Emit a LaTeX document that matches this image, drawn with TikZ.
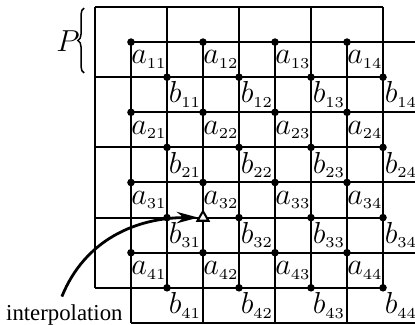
\documentclass[tikz,border=0pt]{standalone}
\usepackage{amsmath}
\usepackage{fontspec}
\usepackage{tikz}
\usetikzlibrary{arrows.meta, positioning, shapes.geometric, decorations.pathreplacing}
\newfontfamily\notefont{Liberation Serif}

\begin{document}
\begin{tikzpicture}[
  x=0.5cm, y=-0.4875cm,
  gridline/.style={line width=0.8pt},
  gridpt/.style={circle, fill, inner sep=0pt, minimum size=3pt},
  val/.style={inner sep=0pt, font=\fontsize{11.5}{14}\selectfont},
  >={Stealth[length=3mm, width=1.6mm, inset=1mm]}
]
  \useasboundingbox (-2.639,-0.199) rectangle (8.889,9.047);
  \clip (-2.639,-0.199) rectangle (8.889,9.047);
  % P lattice
  \foreach \k in {0,2,...,8} {
    \draw[gridline] (\k,0) -- (\k,8);
    \draw[gridline] (0,\k) -- (8,\k);
  }
  % a lattice
  \foreach \k in {1,3,...,9} {
    \draw[gridline] (\k,1) -- (\k,9);
    \draw[gridline] (1,\k) -- (9,\k);
  }
  \foreach \i in {1,...,4} {
    \foreach \j in {1,...,4} {
      \node[gridpt] (pa\i\j) at ({2*\j-1},{2*\i-1}) {};
      \node[gridpt] (pb\i\j) at ({2*\j},{2*\i}) {};
      \node[val] (a\i\j) at ({2*\j-0.5},{2*\i-0.5}) {$a_{\scriptscriptstyle\i\j}$};
      \node[val] (b\i\j) at ({2*\j+0.5},{2*\i+0.5}) {$b_{\scriptscriptstyle\i\j}$};
    }
  }
  % period brace
  \draw[decorate, decoration={brace, amplitude=2.5pt}, line width=0.6pt] (-0.3,1.88) -- (-0.3,0.03);
  \node[font=\fontsize{11.5}{13}\selectfont] (P) at (-0.75,0.97) {$P$};
  % interpolated point
  \node[regular polygon, regular polygon sides=3, draw, fill=white, line width=0.8pt,
        inner sep=0pt, minimum size=5pt] (ip) at (3,6) {};
  \node[font=\notefont\fontsize{9}{11}\selectfont, anchor=base east, inner sep=0pt] (note) at (0.78,8.93) {interpolation};
  \coordinate (start) at (-0.92,8.25);
  \draw[->, line width=1.1pt] (start) to[out=68, in=180] (ip);
\end{tikzpicture}
\end{document}
